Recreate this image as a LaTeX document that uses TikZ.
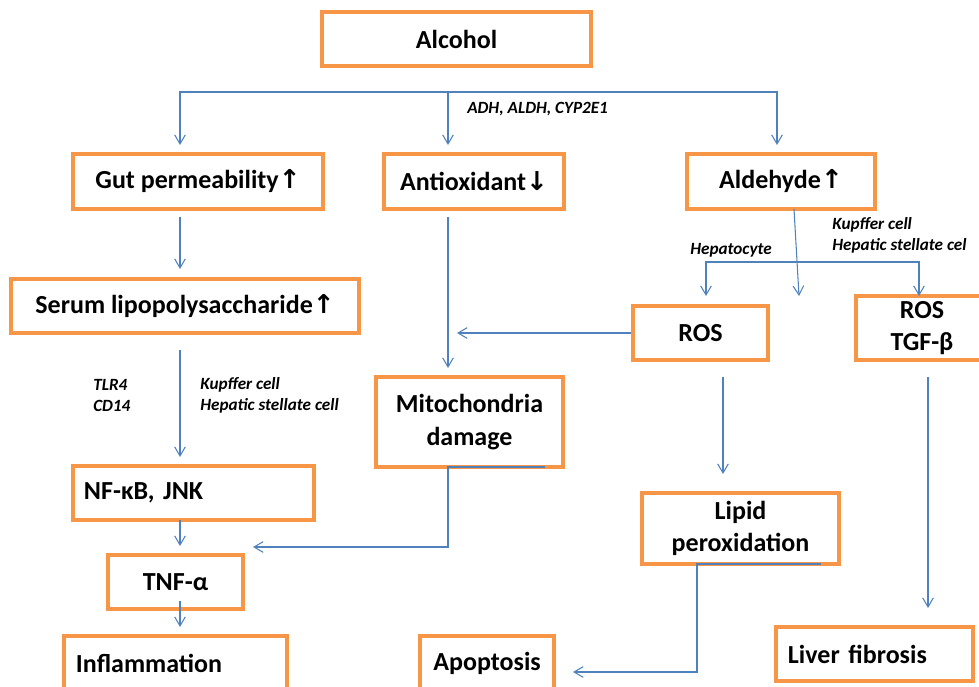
\documentclass[tikz,border=0pt]{standalone}
\usepackage{fontspec}
\setmainfont{Carlito}
\newfontfamily\arrowfont{DejaVu Sans}
\usepackage{tikz}
\usetikzlibrary{positioning,arrows.meta}

\definecolor{boxorange}{RGB}{247,150,70}
\definecolor{linkblue}{RGB}{79,129,189}
\newcommand{\incr}{{\arrowfont\bfseries\char"2191}}
\newcommand{\decr}{{\arrowfont\bfseries\char"2193}}

\tikzset{
    box/.style={draw=boxorange, line width=2.5pt, align=center, inner sep=0pt,
        font=\fontsize{18.5}{23}\selectfont\bfseries},
    leftbox/.style={box, align=left},
    link/.style={draw=linkblue, line width=0.75pt},
    arrow/.style={link, -{Straight Barb[length=6.5pt,width=7.6pt]}},
    tag/.style={anchor=west, inner sep=0pt, align=left,
        font=\fontsize{12.2}{15}\selectfont\bfseries\itshape}
}

\begin{document}
\begin{tikzpicture}[x=0.025cm, y=-0.025cm]
    \useasboundingbox (0,0) rectangle (979,686);

    % Boxes
    \node [box, minimum width=6.725cm, minimum height=1.35cm] (alcohol) at (456.5,39) {Alcohol};
    \node [box, minimum width=6.25cm, minimum height=1.375cm] (gut) at (198,181.5) {Gut permeability\incr};
    \node [box, minimum width=4.5cm, minimum height=1.375cm] (anti) at (474,181.5) {Antioxidant\decr};
    \node [box, minimum width=4.7cm, minimum height=1.375cm] (alde) at (781,181.5) {Aldehyde\incr};
    \node [box, minimum width=8.7cm, minimum height=1.35cm] (serum) at (185,306) {Serum lipopolysaccharide\incr};
    \node [box, minimum width=3.375cm, minimum height=1.35cm] (ros) at (700.5,333) {ROS};
    \node [box, minimum width=3.3cm, minimum height=1.6cm] (rostgf) at (922,328) {ROS\\TGF-β};
    \node [box, minimum width=4.675cm, minimum height=2.25cm] (mito) at (469.5,422) {Mitochondria\\damage};
    \node [leftbox, text width=5.475cm, inner xsep=0.275cm, minimum height=1.35cm] (nfkb) at (193.5,493) {NF-κB, JNK};
    \node [box, minimum width=4.925cm, minimum height=1.775cm] (lipid) at (740.5,528.5) {Lipid\\peroxidation};
    \node [box, minimum width=3.375cm, minimum height=1.35cm] (tnf) at (175.5,582) {TNF-α};
    \node [leftbox, text width=4.975cm, inner xsep=0.3cm, minimum height=1.35cm] (inflam) at (175.5,663) {Inflammation};
    \node [box, minimum width=3.35cm, minimum height=1.35cm] (apop) at (487,663) {Apoptosis};
    \node [leftbox, text width=4.325cm, inner xsep=0.3cm, minimum height=1.35cm] (liver) at (874.5,654) {Liver fibrosis};

    % Labels
    \node [tag] (enzymes) at (467,109) {ADH, ALDH, CYP2E1};
    \node [tag] (hepato) at (690,250) {Hepatocyte};
    \node [tag] (kupffer) at (832,235.5) {Kupffer cell\\Hepatic stellate cel};
    \node [tag] (receptors) at (93,395.5) {TLR4\\CD14};
    \node [tag] (cells) at (200,395.5) {Kupffer cell\\Hepatic stellate cell};

    % Connector points
    \coordinate (split) at (448,92);
    \coordinate (gut-in) at (180,145);
    \coordinate (anti-in) at (448,145);
    \coordinate (alde-in) at (777,145);
    \coordinate (gut-out) at (180,217);
    \coordinate (serum-in) at (180,269);
    \coordinate (anti-out) at (448,217);
    \coordinate (mito-in) at (448,368);
    \coordinate (ros-tip) at (457,333);
    \coordinate (alde-out) at (794,209);
    \coordinate (alde-tip) at (799,296);
    \coordinate (hep-split) at (796,262);
    \coordinate (ros-in) at (706,296);
    \coordinate (rostgf-in) at (919,296);
    \coordinate (serum-out) at (180,350);
    \coordinate (nfkb-in) at (180,457);
    \coordinate (nfkb-out) at (180,520);
    \coordinate (tnf-in) at (180,546);
    \coordinate (mito-out) at (545,467);
    \coordinate (mito-turn) at (448,467);
    \coordinate (tnf-side) at (253,547);
    \coordinate (tnf-out) at (180,601);
    \coordinate (inflam-in) at (180,627);
    \coordinate (ros-out) at (723,377);
    \coordinate (lipid-in) at (723,474);
    \coordinate (lipid-out) at (821,564);
    \coordinate (lipid-turn) at (697,564);
    \coordinate (apop-side) at (573,672);
    \coordinate (rostgf-out) at (928,377);
    \coordinate (liver-in) at (928,608);

    % Connectors
    \foreach \n in {gut,anti,alde} {
        \draw [arrow] (split) -| (\n-in);
    }
    \foreach \n in {ros,rostgf} {
        \draw [arrow] (hep-split) -| (\n-in);
    }
    \draw [arrow] (gut-out) -- (serum-in);
    \draw [arrow] (anti-out) -- (mito-in);
    \draw [arrow] (ros.west) -- (ros-tip);
    \draw [arrow] (alde-out) -- (alde-tip);
    \draw [arrow] (serum-out) -- (nfkb-in);
    \draw [arrow] (nfkb-out) -- (tnf-in);
    \draw [arrow] (mito-out) -- (mito-turn) |- (tnf-side);
    \draw [arrow] (tnf-out) -- (inflam-in);
    \draw [arrow] (ros-out) -- (lipid-in);
    \draw [arrow] (lipid-out) -- (lipid-turn) |- (apop-side);
    \draw [arrow] (rostgf-out) -- (liver-in);
\end{tikzpicture}
\end{document}
